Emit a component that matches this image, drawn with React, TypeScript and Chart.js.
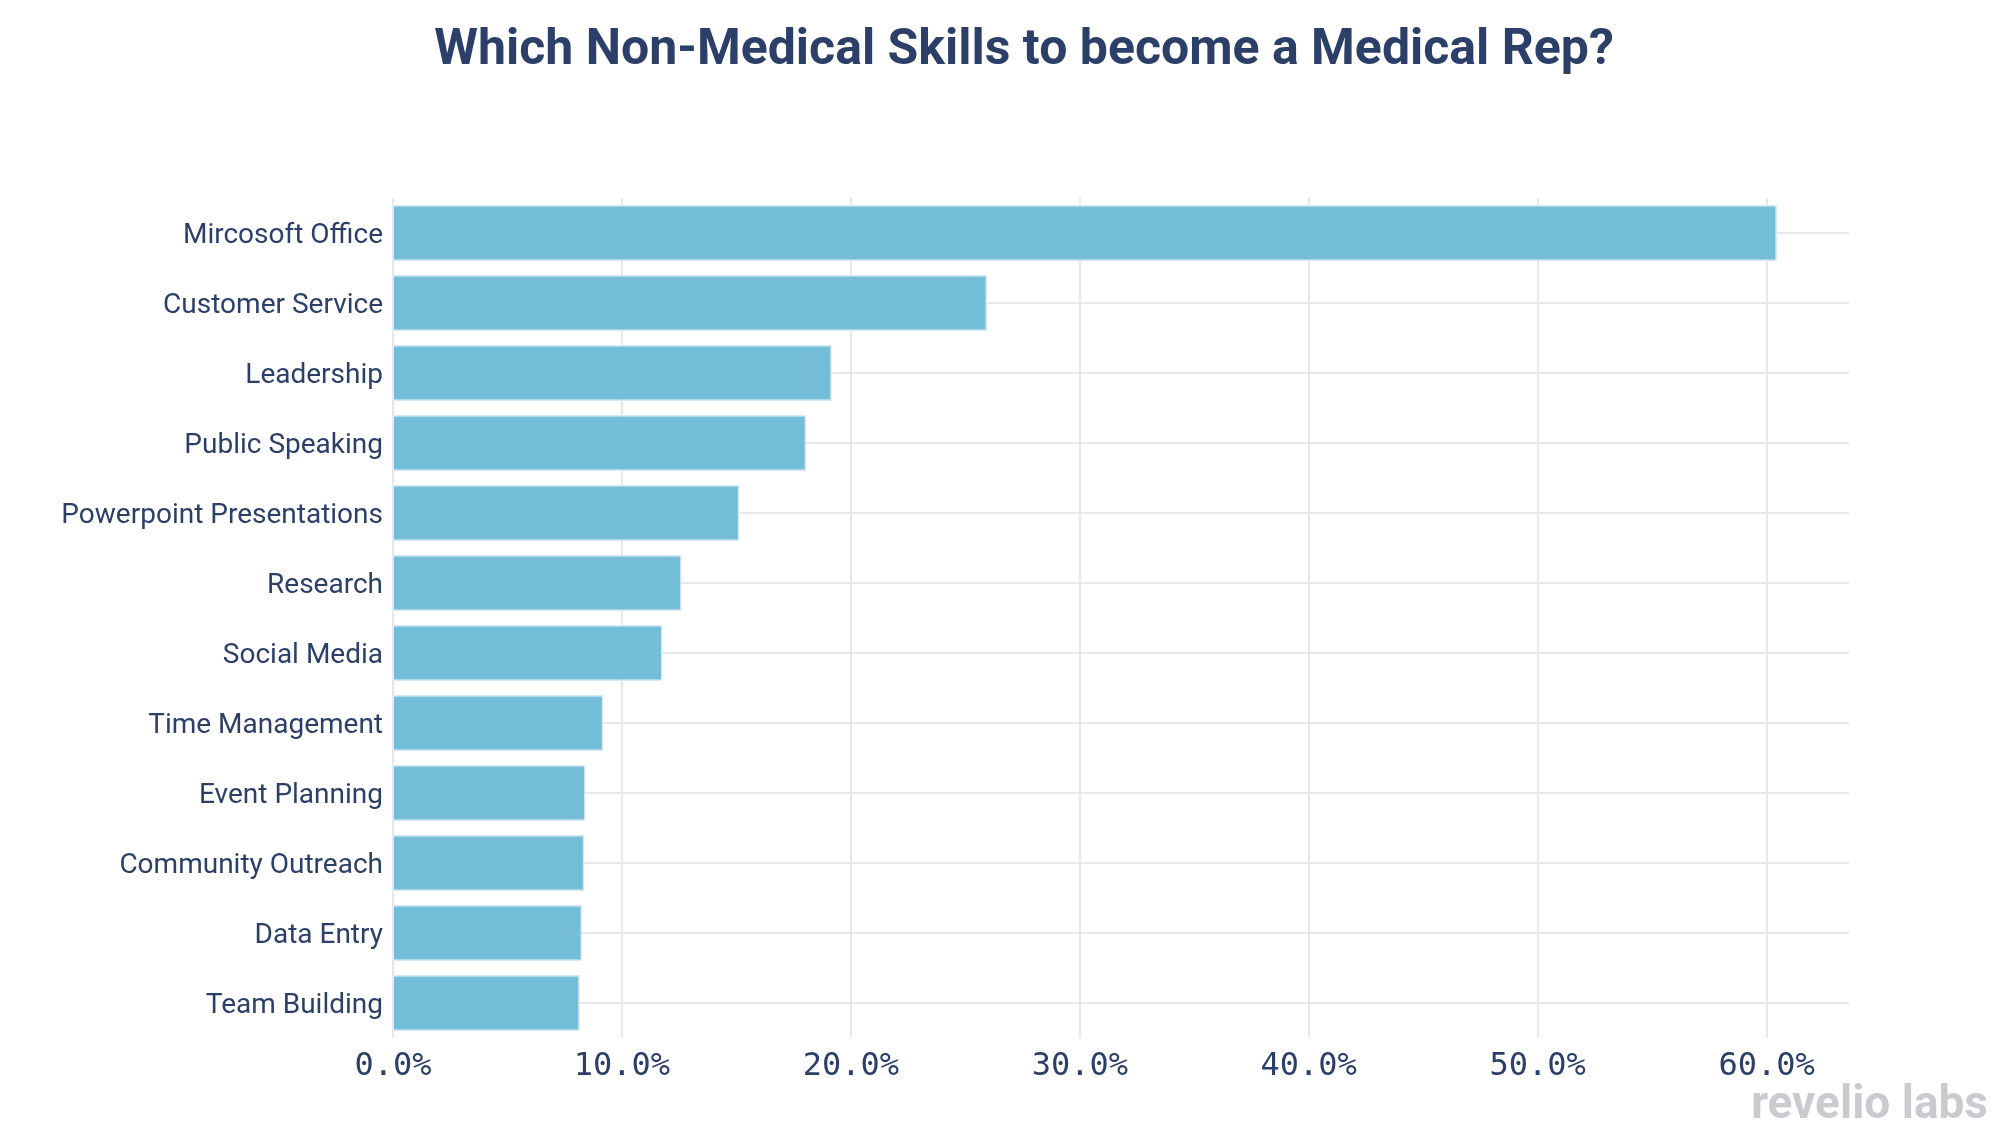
import React, { useEffect, useRef } from "react";
import { Chart, registerables } from "chart.js";

Chart.register(...registerables);

const titleText = "Which Non-Medical Skills to become a Medical Rep?";
const watermarkText = "revelio labs";

const categories = [
  "Mircosoft Office",
  "Customer Service",
  "Leadership",
  "Public Speaking",
  "Powerpoint Presentations",
  "Research",
  "Social Media",
  "Time Management",
  "Event Planning",
  "Community Outreach",
  "Data Entry",
  "Team Building",
];

const shares = [60.45, 25.95, 19.17, 18.05, 15.13, 12.61, 11.77, 9.19, 8.41, 8.36, 8.26, 8.16];

const xMin = 0;
const xMax = 63.6;
const xStep = 10;

const W = 1994;
const H = 1124;

const NAVY = "#2b3f68";

const decorPlugin = {
  id: "decor",
  afterDraw(chart: any) {
    const ctx = chart.ctx;
    ctx.save();
    ctx.fillStyle = NAVY;
    ctx.font = "bold 50px Roboto";
    ctx.textAlign = "center";
    ctx.textBaseline = "alphabetic";
    ctx.fillText(titleText, 1016, 56);
    ctx.fillStyle = "#c9cbcf";
    ctx.font = "bold 46px Roboto";
    ctx.textAlign = "right";
    ctx.fillText(watermarkText, 1980, 1110);
    ctx.restore();
  },
};

export default function App() {
  const ref = useRef<HTMLCanvasElement | null>(null);

  useEffect(() => {
    if (!ref.current) return;
    const chart = new Chart(ref.current, {
      type: "bar",
      data: {
        labels: categories,
        datasets: [
          {
            data: shares,
            backgroundColor: "#73bdd8",
            borderColor: "#d3e9f3",
            borderWidth: 1.5,
            barPercentage: 0.8,
            categoryPercentage: 1,
          },
        ],
      },
      options: {
        indexAxis: "y",
        animation: false,
        responsive: false,
        devicePixelRatio: 1,
        layout: { padding: { top: 190, right: 153, left: 0, bottom: 0 } },
        plugins: {
          legend: { display: false },
          tooltip: { enabled: false },
          title: { display: false },
        },
        scales: {
          x: {
            type: "linear",
            min: xMin,
            max: xMax,
            border: { display: false },
            grid: { color: "#e7e7ed", lineWidth: 2, drawTicks: false },
            ticks: {
              stepSize: xStep,
              includeBounds: false,
              padding: 9,
              color: NAVY,
              font: { family: "DejaVu Sans Mono", size: 32 },
              callback: (v: any) => Number(v).toFixed(1) + "%",
              maxRotation: 0,
            },
            afterFit: (s: any) => {
              s.height = 94;
            },
          },
          y: {
            type: "category",
            border: { display: false },
            grid: { color: "#e7e7ed", lineWidth: 2, drawTicks: false, offset: false },
            ticks: {
              padding: 10,
              labelOffset: 3,
              color: NAVY,
              font: { family: "Roboto", size: 28 },
            },
            afterFit: (s: any) => {
              s.width = 385;
            },
          },
        },
      },
      plugins: [decorPlugin],
    });
    return () => chart.destroy();
  }, []);

  return (
    <div style={{ width: W, height: H }}>
      <canvas ref={ref} width={W} height={H} style={{ width: W, height: H, display: "block" }} />
    </div>
  );
}
